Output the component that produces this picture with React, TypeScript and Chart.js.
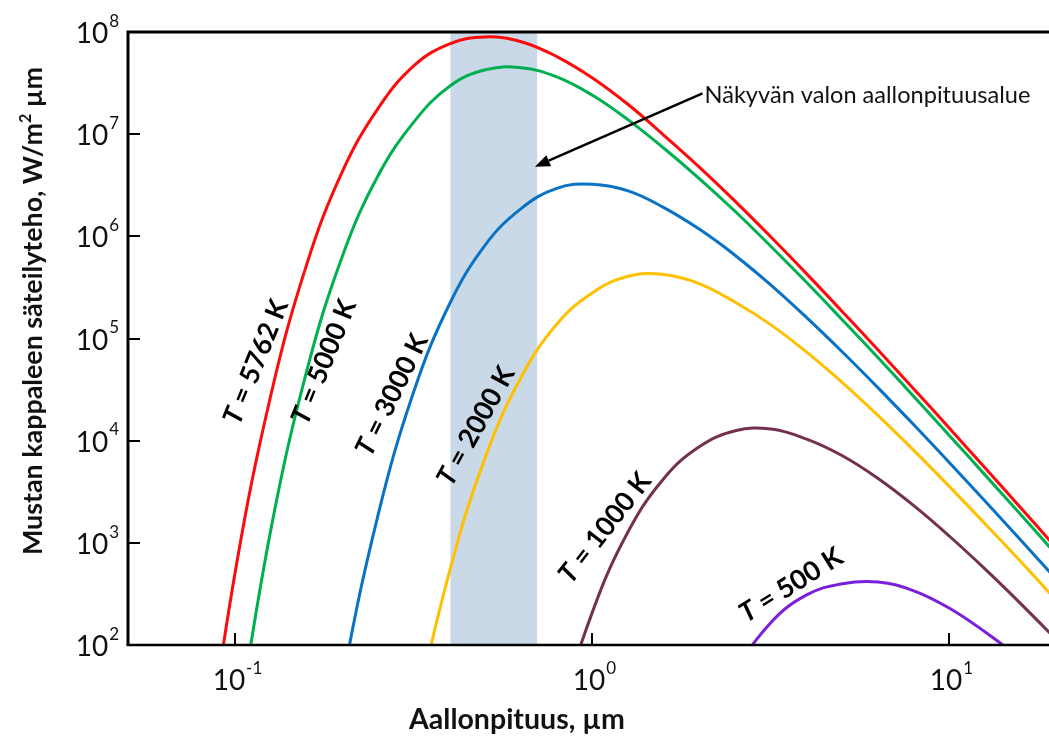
import React, { useEffect, useRef } from "react";
import { Chart, registerables } from "chart.js";

Chart.register(...registerables);

// Wavelength (µm) and spectral exitance (W/m² µm)
const WL_5762 = [0.0794, 0.1, 0.1259, 0.1585, 0.1995, 0.2512, 0.3162, 0.3981, 0.5012, 0.631, 0.7943, 1, 1.259, 1.585, 1.995, 2.512, 3.162, 3.981, 5.012, 6.31, 7.943, 10, 12.59, 15.85, 19.95, 25.12];
const M_5762 = [2.6, 536, 28800, 538000, 4350000, 18000000, 46800000, 76700000, 89500000, 80400000, 57500000, 35500000, 19500000, 9750000, 4740000, 2200000, 984000, 429000, 183000, 77100, 32100, 13200, 5400, 2190, 887, 358];

const WL_5000 = [0.1, 0.1259, 0.1585, 0.1995, 0.2512, 0.3162, 0.3981, 0.5012, 0.631, 0.7943, 1, 1.259, 1.585, 1.995, 2.512, 3.162, 3.981, 5.012, 6.31, 7.943, 10, 12.59, 15.85, 19.95, 25.12];
const M_5000 = [11.9, 1400, 48800, 646000, 3960000, 13200000, 29500000, 42700000, 44700000, 36300000, 24000000, 13800000, 7280000, 3660000, 1750000, 796000, 353000, 152000, 64700, 27100, 11200, 4600, 1880, 762, 308];

const WL_3000 = [0.1585, 0.1995, 0.2512, 0.3162, 0.3981, 0.5012, 0.631, 0.7943, 1, 1.259, 1.585, 1.995, 2.512, 3.162, 3.981, 5.012, 6.31, 7.943, 10, 12.59, 15.85, 19.95, 25.12];
const M_3000 = [0.27, 43, 1910, 30600, 219000, 826000, 1870000, 2950000, 3240000, 2790000, 1910000, 1170000, 650000, 333000, 160000, 73800, 32900, 14300, 6080, 2550, 1060, 436, 178];

const WL_2000 = [0.2512, 0.3162, 0.3981, 0.5012, 0.631, 0.7943, 1, 1.259, 1.585, 1.995, 2.512, 3.162, 3.981, 5.012, 6.31, 7.943, 10, 12.59, 15.85, 19.95, 25.12];
const M_2000 = [0.136, 15.6, 531, 6900, 41800, 138000, 281000, 407000, 422000, 343000, 226000, 136000, 73500, 37000, 17600, 8040, 3550, 1530, 652, 272, 113];

const WL_1000 = [0.631, 0.7943, 1, 1.259, 1.585, 1.995, 2.512, 3.162, 3.981, 5.012, 6.31, 7.943, 10, 12.59, 15.85, 19.95, 25.12];
const M_1000 = [0.47, 16.1, 211, 1290, 4270, 8750, 12500, 13000, 10350, 7110, 4260, 2310, 1160, 553, 253, 112, 48];

const WL_500 = [1.995, 2.512, 3.162, 3.981, 5.012, 6.31, 7.943, 10, 12.59, 15.85, 19.95];
const M_500 = [6.5, 52, 166, 309, 398, 414, 339, 229, 134, 72.8, 36.6];

const SERIES_NAMES = ["5762 K", "5000 K", "3000 K", "2000 K", "1000 K", "500 K"];
const X_TICKS = [0.1, 1, 10];
const X_TICK_EXP = ["-1", "0", "1"];
const Y_TICKS = [1e2, 1e3, 1e4, 1e5, 1e6, 1e7, 1e8];
const Y_TICK_EXP = ["2", "3", "4", "5", "6", "7", "8"];
const VISIBLE_BAND = [0.4, 0.7];

const X_TITLE = "Aallonpituus, µm";
const Y_TITLE_A = "Mustan kappaleen säteilyteho, W/m";
const Y_TITLE_SUP = "2";
const Y_TITLE_B = " µm";
const ANNOTATION = "Näkyvän valon aallonpituusalue";

// styling / placement
const COLORS = ["#ff0a0a", "#00b050", "#0a72c4", "#ffc000", "#74304f", "#7a1fdc"];
const LABEL_ANCHORS = [
  { x: 0.1142, y: 5.9e4, angle: -68 },
  { x: 0.177, y: 5.9e4, angle: -68 },
  { x: 0.2745, y: 2.8e4, angle: -64 },
  { x: 0.472, y: 1.39e4, angle: -61 },
  { x: 1.084, y: 1.4e3, angle: -52 },
  { x: 3.6, y: 386, angle: -32 },
];
const ANNOT_TEXT_AT = { x: 2.06, y: 2.4e7 };
const ANNOT_ARROW_HEAD = { x: 0.69, y: 4.8e6 };
const BAND_COLOR = "#c9d9e7";
const FONT = "Lato, 'Open Sans', 'DejaVu Sans', sans-serif";

function fitSize(ctx: CanvasRenderingContext2D, text: string, weight: string, target: number) {
  ctx.font = `${weight} 100px ${FONT}`;
  const w = ctx.measureText(text).width;
  return (100 * target) / w;
}

function drawPow(
  ctx: CanvasRenderingContext2D,
  exp: string,
  x: number,
  y: number,
  align: "center" | "right",
  baseSize: number,
  supSize: number
) {
  ctx.font = `${baseSize}px ${FONT}`;
  const wb = ctx.measureText("10").width;
  ctx.font = `${supSize}px ${FONT}`;
  const ws = ctx.measureText(exp).width;
  const total = wb + ws + 1;
  const left = align === "center" ? x - total / 2 : x - total;
  ctx.textAlign = "left";
  ctx.textBaseline = "alphabetic";
  ctx.font = `${baseSize}px ${FONT}`;
  ctx.fillText("10", left, y);
  ctx.font = `${supSize}px ${FONT}`;
  ctx.fillText(exp, left + wb + 1, y - baseSize * 0.58);
}

const overlayPlugin = {
  id: "overlay",
  beforeDatasetsDraw(chart: any) {
    const { ctx, chartArea } = chart;
    const xs = chart.scales.x;
    const x0 = xs.getPixelForValue(VISIBLE_BAND[0]);
    const x1 = xs.getPixelForValue(VISIBLE_BAND[1]);
    ctx.save();
    ctx.fillStyle = BAND_COLOR;
    ctx.fillRect(x0, chartArea.top, x1 - x0, chartArea.bottom - chartArea.top);
    ctx.restore();
  },
  afterDatasetsDraw(chart: any) {
    const { ctx, chartArea, width } = chart;
    const xs = chart.scales.x;
    const ys = chart.scales.y;
    const L = chartArea.left;
    const T = chartArea.top;
    const B = chartArea.bottom;
    ctx.save();
    ctx.fillStyle = "#111";
    ctx.strokeStyle = "#000";

    // frame
    ctx.lineWidth = 3;
    ctx.beginPath();
    ctx.moveTo(L - 1.5, T);
    ctx.lineTo(width, T);
    ctx.moveTo(L, T);
    ctx.lineTo(L, B);
    ctx.stroke();
    ctx.lineWidth = 2.5;
    ctx.beginPath();
    ctx.moveTo(L - 1.5, B);
    ctx.lineTo(width, B);
    ctx.stroke();

    // ticks (inward)
    ctx.lineWidth = 2;
    ctx.beginPath();
    Y_TICKS.forEach((v) => {
      const py = Math.round(ys.getPixelForValue(v));
      if (v > ys.min && v < ys.max) {
        ctx.moveTo(L, py);
        ctx.lineTo(L + 12, py);
      }
    });
    X_TICKS.forEach((v) => {
      const px = Math.round(xs.getPixelForValue(v));
      ctx.moveTo(px, B);
      ctx.lineTo(px, B - 12);
    });
    ctx.stroke();

    // tick labels
    Y_TICKS.forEach((v, i) => {
      const py = ys.getPixelForValue(v);
      drawPow(ctx, Y_TICK_EXP[i], L - 9, py + 11, "right", 28, 17);
    });
    X_TICKS.forEach((v, i) => {
      const px = xs.getPixelForValue(v);
      drawPow(ctx, X_TICK_EXP[i], px + 2, B + 45, "center", 28, 17);
    });

    // x title
    const xs1 = fitSize(ctx, X_TITLE, "bold", 216);
    ctx.font = `bold ${xs1}px ${FONT}`;
    ctx.textAlign = "center";
    ctx.textBaseline = "alphabetic";
    ctx.fillText(X_TITLE, 517, 729);

    // y title (rotated)
    ctx.font = `bold 100px ${FONT}`;
    const wA = ctx.measureText(Y_TITLE_A).width;
    const wB = ctx.measureText(Y_TITLE_B).width;
    const wS = ctx.measureText(Y_TITLE_SUP).width * 0.6;
    const ysz = (100 * 488) / (wA + wB + wS);
    ctx.save();
    ctx.translate(42, 311);
    ctx.rotate(-Math.PI / 2);
    const total = ((wA + wB + wS) * ysz) / 100;
    let cx = -total / 2;
    ctx.textAlign = "left";
    ctx.font = `bold ${ysz}px ${FONT}`;
    ctx.fillText(Y_TITLE_A, cx, 0);
    cx += (wA * ysz) / 100;
    ctx.font = `bold ${ysz * 0.6}px ${FONT}`;
    ctx.fillText(Y_TITLE_SUP, cx, -ysz * 0.42);
    cx += (wS * ysz) / 100;
    ctx.font = `bold ${ysz}px ${FONT}`;
    ctx.fillText(Y_TITLE_B, cx, 0);
    ctx.restore();

    // curve labels
    LABEL_ANCHORS.forEach((a, i) => {
      const px = xs.getPixelForValue(a.x);
      const py = ys.getPixelForValue(a.y);
      const size = 27;
      ctx.save();
      ctx.translate(px, py);
      ctx.rotate((a.angle * Math.PI) / 180);
      ctx.font = `italic bold ${size}px ${FONT}`;
      const wT = ctx.measureText("T").width;
      const rest = " = " + SERIES_NAMES[i];
      ctx.font = `bold ${size}px ${FONT}`;
      const wR = ctx.measureText(rest).width;
      const start = -(wT + wR) / 2;
      ctx.textAlign = "left";
      ctx.textBaseline = "middle";
      ctx.font = `italic bold ${size}px ${FONT}`;
      ctx.fillStyle = "#000";
      ctx.fillText("T", start, 0);
      ctx.font = `bold ${size}px ${FONT}`;
      ctx.fillText(rest, start + wT, 0);
      ctx.restore();
    });

    // annotation
    const tx = xs.getPixelForValue(ANNOT_TEXT_AT.x);
    const ty = ys.getPixelForValue(ANNOT_TEXT_AT.y);
    const asz = fitSize(ctx, ANNOTATION, "normal", 326);
    ctx.font = `normal ${asz}px ${FONT}`;
    ctx.textAlign = "left";
    ctx.textBaseline = "middle";
    ctx.fillStyle = "#111";
    ctx.fillText(ANNOTATION, tx, ty);
    const hx = xs.getPixelForValue(ANNOT_ARROW_HEAD.x);
    const hy = ys.getPixelForValue(ANNOT_ARROW_HEAD.y);
    const sx = tx - 2;
    const sy = ty - 2;
    const ang = Math.atan2(hy - sy, hx - sx);
    const headLen = 15;
    const headW = 6;
    const bx = hx - headLen * Math.cos(ang);
    const by = hy - headLen * Math.sin(ang);
    ctx.strokeStyle = "#000";
    ctx.lineWidth = 2.5;
    ctx.beginPath();
    ctx.moveTo(sx, sy);
    ctx.lineTo(bx, by);
    ctx.stroke();
    ctx.fillStyle = "#000";
    ctx.beginPath();
    ctx.moveTo(hx, hy);
    ctx.lineTo(bx + headW * Math.sin(ang), by - headW * Math.cos(ang));
    ctx.lineTo(bx - headW * Math.sin(ang), by + headW * Math.cos(ang));
    ctx.closePath();
    ctx.fill();

    ctx.restore();
  },
};

export default function App() {
  const canvasRef = useRef<HTMLCanvasElement | null>(null);

  useEffect(() => {
    const canvas = canvasRef.current;
    if (!canvas) return;
    const series = [
      [WL_5762, M_5762],
      [WL_5000, M_5000],
      [WL_3000, M_3000],
      [WL_2000, M_2000],
      [WL_1000, M_1000],
      [WL_500, M_500],
    ];
    const chart = new Chart(canvas, {
      type: "line",
      data: {
        datasets: series.map(([wl, m], i) => ({
          label: "T = " + SERIES_NAMES[i],
          data: wl.map((w, j) => ({ x: w, y: m[j] })),
          borderColor: COLORS[i],
          backgroundColor: COLORS[i],
          borderWidth: 3,
          pointRadius: 0,
          fill: false,
          tension: 0.4,
        })),
      },
      options: {
        responsive: false,
        animation: false,
        layout: { padding: { left: 128, top: 32, right: 0, bottom: 93 } },
        plugins: {
          legend: { display: false },
          tooltip: { enabled: false },
          title: { display: false },
        },
        scales: {
          x: { type: "logarithmic", min: 0.05, max: 19, display: false },
          y: { type: "logarithmic", min: 100, max: 1e8, display: false },
        },
      },
      plugins: [overlayPlugin],
    });
    return () => chart.destroy();
  }, []);

  return (
    <div style={{ position: "fixed", left: 0, top: 0, width: 1049, height: 738, background: "#fff" }}>
      <canvas ref={canvasRef} width={1049} height={738} style={{ display: "block" }} />
    </div>
  );
}
